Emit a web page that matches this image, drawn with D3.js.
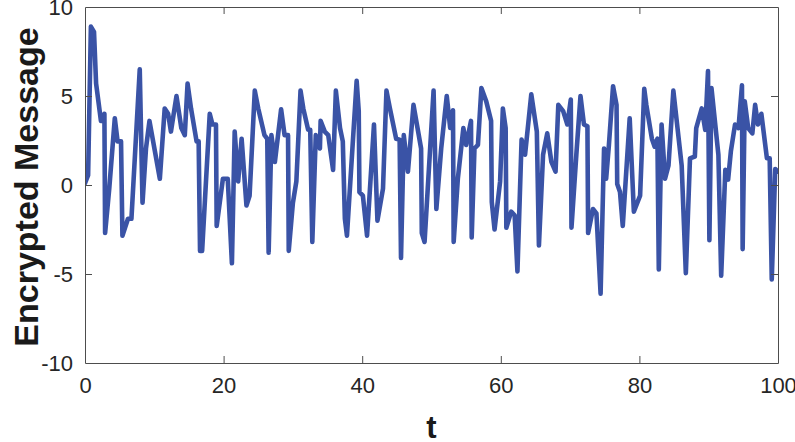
<!DOCTYPE html>
<html>
<head>
<meta charset="utf-8">
<script src="https://cdn.jsdelivr.net/npm/d3@7"></script>
<style>
    body { margin: 0; background: #fff; }
    #chart { width: 795px; height: 442px; }
    text { font-family: "Liberation Sans", Arial, sans-serif; }
</style>
</head>
<body>
<div id="chart"></div>
<script>
// time samples
const tValues = [
    0, 0.45, 0.85, 1.3, 1.6, 2.3, 2.8, 2.9, 3.5, 4.3, 4.7, 5.2, 5.4, 6.2, 6.7, 7.9, 8.3, 8.8, 9.3,
    10.8, 11.5, 12.0, 12.4, 13.2, 13.9, 14.4, 14.8, 15.3, 16.1, 16.4, 16.6, 16.9, 18.0, 18.4, 18.9, 19.0, 19.9,
    20.6, 21.2, 21.6, 22.1, 22.6, 23.3, 23.75, 24.5, 25.0, 25.9, 26.3, 26.5, 26.9, 27.4, 28.3, 28.8, 29.3, 29.4,
    30.0, 30.5, 31.1, 31.5, 32.2, 32.5, 32.8, 33.3, 33.9, 34.0, 34.6, 35.1, 35.8, 36.2, 36.8, 37.2, 37.5, 37.8,
    39.2, 39.5, 39.6, 40.1, 40.7, 41.7, 42.2, 43.0, 43.5, 44.0, 44.9, 45.4, 45.6, 46.0, 46.6, 47.4, 48.5, 48.6, 49.0,
    50.3, 50.7, 51.4, 52.2, 52.7, 53.1, 53.2, 53.8, 54.6, 55.0, 55.7, 55.8, 56.2, 56.7, 57.2, 57.9, 58.6, 58.7, 59.1, 59.9,
    60.3, 60.7, 60.8, 61.5, 62.0, 62.4, 63.0, 63.5, 64.4, 65.2, 65.5, 66.1, 66.7, 67.3, 67.9, 68.3, 69.0, 69.6,
    70.1, 70.2, 70.9, 71.5, 72.0, 72.5, 72.6, 73.3, 73.8, 74.4, 74.9, 75.2, 75.6, 76.2, 76.7, 76.8, 77.2, 77.6, 78.6, 79.2,
    80.1, 80.7, 81.0, 81.8, 82.2, 82.6, 82.8, 83.2, 83.7, 84.2, 84.9, 86.1, 86.7, 87.3, 88.0, 88.2, 89.0, 89.5, 89.9,
    90.1, 90.4, 91.4, 91.8, 92.4, 92.8, 93.2, 93.8, 94.3, 94.8, 94.9, 95.2, 95.7, 96.3, 96.7, 97.1, 97.6, 98.4, 98.8, 99.1, 99.6, 100
];

// encrypted message value at each sample
const msgValues = [
    0.1, 0.55, 8.9, 8.6, 5.7, 3.6, 4.0, -2.7, -0.2, 3.75, 2.45, 2.45, -2.85, -1.9, -1.9, 6.5, -1.0, 2.05, 3.6,
    0.35, 4.3, 4.0, 3.0, 5.0, 3.2, 2.8, 5.7, 4.3, 2.45, 2.45, -3.7, -3.7, 4.0, 3.4, 3.4, -2.3, 0.35,
    0.35, -4.4, 3.0, 0.2, 2.6, -1.15, -0.6, 5.3, 4.3, 2.8, 2.6, -3.8, 2.8, 1.3, 4.25, 2.8, 2.8, -3.7,
    -1.0, 0.2, 5.3, 4.3, 3.1, 3.1, -3.2, 2.8, 2.05, 3.6, 3.0, 2.8, 0.85, 5.3, 3.2, 2.45, -1.9, -2.85,
    5.85, 4.15, -0.4, -0.6, -2.85, 3.4, -2.0, -0.2, 5.3, 4.3, 2.6, 2.55, -4.1, 2.8, 0.75, 4.5, 2.05, -2.7, -3.2,
    5.3, -1.35, 2.05, 5.0, 3.2, 4.2, -3.2, 0.35, 3.2, 2.25, 3.6, -2.95, 2.05, 2.25, 5.45, 4.7, 3.6, -0.95, -2.5, 0.2,
    4.3, 3.2, -2.4, -1.5, -1.7, -4.85, 2.55, 1.7, 5.1, 3.0, -3.4, 1.7, 2.9, 1.3, 0.75, 4.5, 4.15, 3.4,
    4.8, -2.4, 1.7, 5.0, 3.4, 3.3, -2.7, -1.35, -1.6, -6.1, 2.05, 0.35, 2.25, 5.55, 4.5, 0.05, -0.4, -2.3, 3.75, -1.5,
    -0.6, 5.4, 4.5, 2.6, 2.15, 2.6, -4.75, 3.4, 0.35, 1.1, 5.3, 1.1, -4.95, 1.5, 1.6, 3.2, 4.3, 3.1, 6.4,
    -3.1, 5.45, 1.7, -5.1, 0.85, 0.3, 1.9, 3.4, 3.2, 5.6, -3.6, 4.7, 3.2, 2.9, 4.5, 3.4, 4.0, 1.5, 1.5, -5.3, 0.9, 0.75
];

const xTicks = [0, 20, 40, 60, 80, 100];
const yTicks = [-10, -5, 0, 5, 10];

const xLabel = "t";
const yLabel = "Encrypted Message";

// drawing area
let margin = {top: 7, right: 17, bottom: 79, left: 85};
let width = 795 - margin.left - margin.right;
let height = 442 - margin.top - margin.bottom;

let svg = d3.select("#chart").append("svg")
    .attr("width", 795)
    .attr("height", 442);

let g = svg.append("g")
    .attr("transform", `translate(${margin.left}, ${margin.top})`);

let x = d3.scaleLinear().domain([0, 100]).range([0, width]);
let y = d3.scaleLinear().domain([-10, 10]).range([height, 0]);

let data = tValues.map((t, i) => ({t: t, v: msgValues[i]}));

// clip the line to the axes box
g.append("clipPath").attr("id", "plotClip")
    .append("rect").attr("width", width).attr("height", height);

let line = d3.line()
    .x(d => x(d.t))
    .y(d => y(d.v));

g.append("path")
    .datum(data)
    .attr("clip-path", "url(#plotClip)")
    .attr("fill", "none")
    .attr("stroke", "#3a53a6")
    .attr("stroke-width", 4.6)
    .attr("stroke-linejoin", "round")
    .attr("stroke-linecap", "round")
    .attr("d", line);

// axes, MATLAB style: ticks inside, mirrored on the box
let axisColor = "#4d4d4d";
let tickLen = 7;
let plainNum = d => String(d); // keep the hyphen minus like the original

let xAxis = g.append("g")
    .attr("transform", `translate(0, ${height})`)
    .call(d3.axisBottom(x).tickValues(xTicks).tickSizeInner(-tickLen).tickSizeOuter(0).tickPadding(14).tickFormat(plainNum));

let xTop = g.append("g")
    .call(d3.axisTop(x).tickValues(xTicks).tickSizeInner(-tickLen).tickSizeOuter(0).tickFormat(""));

let yAxis = g.append("g")
    .call(d3.axisLeft(y).tickValues(yTicks).tickSizeInner(-tickLen).tickSizeOuter(0).tickPadding(12).tickFormat(plainNum));

let yRight = g.append("g")
    .attr("transform", `translate(${width}, 0)`)
    .call(d3.axisRight(y).tickValues(yTicks).tickSizeInner(-tickLen).tickSizeOuter(0).tickFormat(""));

[xAxis, xTop, yAxis, yRight].forEach(a => {
    a.select(".domain").attr("stroke", axisColor).attr("stroke-width", 1);
    a.selectAll(".tick line").attr("stroke", axisColor).attr("stroke-width", 1);
    a.selectAll(".tick text")
        .attr("fill", "#262626")
        .style("font-size", "22px")
        .style("font-family", "'Liberation Sans', Arial, sans-serif");
});

// hide the end ticks that fall on the box edges
[xAxis, xTop].forEach(a => a.selectAll(".tick line").filter(d => d === 0 || d === 100).remove());
[yAxis, yRight].forEach(a => a.selectAll(".tick line").filter(d => d === -10 || d === 10).remove());

// axis labels
svg.append("text")
    .attr("x", margin.left + width / 2)
    .attr("y", 438)
    .attr("text-anchor", "middle")
    .style("font-size", "31px")
    .style("font-weight", "bold")
    .attr("fill", "#1a1a1a")
    .text(xLabel);

svg.append("text")
    .attr("transform", `translate(38, ${margin.top + height / 2 + 2}) rotate(-90)`)
    .attr("text-anchor", "middle")
    .style("font-size", "34px")
    .style("font-weight", "bold")
    .attr("fill", "#1a1a1a")
    .text(yLabel);
</script>
</body>
</html>
